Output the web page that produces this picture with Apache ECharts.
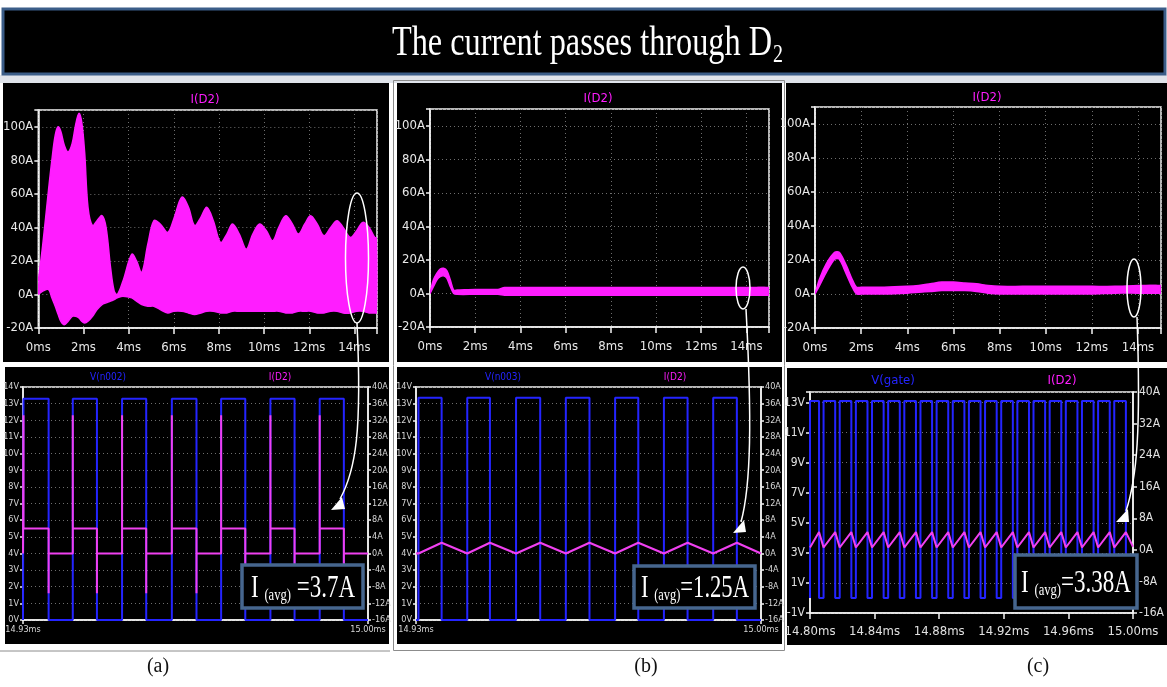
<!DOCTYPE html>
<html>
<head>
<meta charset="utf-8">
<script src="https://cdn.jsdelivr.net/npm/echarts@6/dist/echarts.min.js"></script>
<style>
html,body{margin:0;padding:0;background:#fff;}
#main{width:1167px;height:687px;}
</style>
</head>
<body>
<div id="main"></div>
<script>
// ---- top row: I(D2) over 0..15ms, drawn as a band (upper / lower edge) ----
const timeA  = [0, 0.2, 0.45, 0.6, 0.75, 0.88, 1.0, 1.15, 1.32, 1.5, 1.65, 1.8, 1.92, 2.05, 2.2, 2.4, 2.6, 2.82, 3.0, 3.2, 3.36, 3.5, 3.75,
                4.14, 4.35, 4.58, 4.85, 5.12, 5.4, 5.73, 6.0, 6.36, 6.65, 6.92, 7.2, 7.46, 7.75, 8.07, 8.35, 8.6, 8.9, 9.21, 9.5,
                9.8, 10.1, 10.38, 10.65, 10.96, 11.25, 11.52, 11.8, 12.06, 12.35, 12.65, 12.95, 13.23, 13.5, 13.82, 14.1, 14.37, 14.65, 14.9, 15];
const upperA = [8, 30, 62, 80, 95, 100, 97, 89, 85, 90, 101, 108, 103, 85, 52, 41, 44, 47, 40, 16, 2, 0, 8,
                24, 20, 13, 30, 44, 42, 37, 45, 58, 52, 41, 46, 52, 44, 31, 36, 42, 36, 27, 36,
                42, 38, 32, 40, 47, 42, 36, 42, 47, 42, 35, 40, 44, 40, 34, 38, 43, 40, 34, 34];
const lowerA = [0, 2, 3, -2, -7, -12, -16, -18, -16, -13, -13, -14, -16, -17, -16, -13, -9, -6, -5, -4, -3, -2, -1,
                -2, -4, -6, -7, -7, -9, -11, -10, -10, -11, -12, -11, -10, -10, -11, -11, -10, -10, -10, -10,
                -10, -10, -10, -10, -11, -11, -10, -10, -10, -11, -11, -10, -10, -11, -11, -10, -10, -11, -11, -11];

const timeB  = [0, 0.15, 0.3, 0.45, 0.6, 0.75, 0.9, 1.05, 1.2, 2, 3, 3.3, 4, 5, 6, 7, 8, 9, 10, 11, 12, 13, 14, 15];
const upperB = [0, 8, 12, 14.5, 15, 13.5, 8, 2, 2, 2.4, 2.4, 3.5, 3.5, 3.5, 3.5, 3.5, 3.5, 3.5, 3.5, 3.5, 3.5, 3.5, 3.5, 3.5];
const lowerB = [0, 4, 8, 10, 10.5, 9, 4, 0, -0.5, -0.5, -0.5, -1, -1, -1, -1, -1, -1, -1, -1, -1, -1, -1, -1, -1];

const timeC  = [0, 0.2, 0.5, 0.85, 1.05, 1.35, 1.6, 1.8, 2, 3, 4, 4.5, 5, 5.5, 6, 6.5, 7, 7.5, 8, 9, 10, 11, 12, 13, 14, 15];
const upperC = [0, 9, 18, 24.5, 24.5, 17, 9, 4, 4, 4, 4.5, 5, 6, 7, 7, 6.5, 6, 5, 4.5, 4.5, 4.5, 4.5, 4.5, 4.5, 5, 5];
const lowerC = [0, 5, 13, 20.5, 20.5, 12, 4.5, 0, 0, 0, 0.5, 1, 1.5, 2, 2, 2, 1.5, 0.5, 0, 0, 0, 0, 0, 0.5, 0.5, 0.5];

// ---- bottom row: gate voltage edges (ms) and current levels ----
const aRise = [14.9301, 14.9401, 14.9501, 14.9602, 14.9702, 14.9802, 14.9902];
const aFall = [14.9352, 14.9450, 14.9550, 14.9652, 14.9751, 14.9851, 14.9951];
const aVolt = [0, 13.3];                 // low, high
const aAmps = [33.2, 6, -9.6, 0];        // turn-on spike, on, turn-off spike, off

const bRise = [14.9305, 14.9404, 14.9503, 14.9604, 14.9704, 14.9803, 14.9903];
const bFall = [14.9352, 14.9450, 14.9552, 14.9652, 14.9751, 14.9851, 14.9951];
const bVolt = [0, 13.36];
const bAmps = [0, 2.56];                 // trough, peak

const cRise = [14.8000, 14.8084, 14.8184, 14.8284, 14.8384, 14.8484, 14.8584, 14.8684, 14.8784, 14.8884,
               14.8984, 14.9084, 14.9184, 14.9284, 14.9384, 14.9484, 14.9584, 14.9684, 14.9784, 14.9884];
const cFall = [14.8056, 14.8156, 14.8256, 14.8356, 14.8456, 14.8556, 14.8656, 14.8756, 14.8856, 14.8956,
               14.9056, 14.9156, 14.9256, 14.9356, 14.9456, 14.9556, 14.9656, 14.9756, 14.9856, 14.9956];
const cVolt = [0, 13.1];
const cAmps = [0.6, 4.5, 0.8];           // trough, peak, value at 15ms

const avgLabels = ['3.7A', '1.25A', '3.38A'];

const MAG = '#ff1dff';
const MAG2 = '#f040f0';
const BLUE = '#2424ff';
const SERIF = "'Liberation Serif','DejaVu Serif',serif";
const NARROW = "'Liberation Sans Narrow','DejaVu Sans Condensed',sans-serif";

function measure(text, size, family) {
  const ctx = document.createElement('canvas').getContext('2d');
  ctx.font = size + 'px ' + family;
  return ctx.measureText(text).width;
}

// filled band between lower and upper edge, placed through the axis scales
function bandSeries(idx, t, up, lo, sm) {
  return {
    type: 'custom', coordinateSystem: 'cartesian2d', xAxisIndex: idx, yAxisIndex: idx,
    silent: true, clip: true,
    data: t.map((x, i) => [x, up[i], lo[i]]),
    encode: { x: 0, y: [1, 2] },
    renderItem: function (params, api) {
      if (params.dataIndex !== 0) return null;
      const top = t.map((x, i) => api.coord([x, up[i]]));
      const bot = t.map((x, i) => api.coord([x, lo[i]])).reverse();
      return {
        type: 'group',
        children: [
          { type: 'polyline', shape: { points: top, smooth: sm }, style: { fill: 'none', stroke: MAG, lineWidth: 1.5 } },
          { type: 'polyline', shape: { points: bot, smooth: sm }, style: { fill: 'none', stroke: MAG, lineWidth: 1.5 } },
          { type: 'polygon', shape: { points: top.concat(bot), smooth: sm }, style: { fill: MAG } }
        ]
      };
    }
  };
}

function squareWave(start, end, rise, fall, lv) {
  const pts = [[start, lv[0]]];
  rise.forEach((r, k) => {
    pts.push([r, lv[0]], [r, lv[1]], [fall[k], lv[1]], [fall[k], lv[0]]);
  });
  pts.push([end, lv[0]]);
  return pts;
}

// (a) current: spike at each edge
const aCurrent = [[14.93, aAmps[3]]];
aRise.forEach((r, k) => {
  aCurrent.push([r, aAmps[3]], [r, aAmps[0]], [r, aAmps[1]], [aFall[k], aAmps[1]], [aFall[k], aAmps[2]], [aFall[k], aAmps[3]]);
});
aCurrent.push([15.0, aAmps[3]]);

// (b) current: triangle, trough at rise, peak at fall
const bCurrent = [[14.93, bAmps[0]]];
bRise.forEach((r, k) => bCurrent.push([r, bAmps[0]], [bFall[k], bAmps[1]]));
bCurrent.push([15.0, bAmps[0]]);

// (c) current
const cCurrent = [];
cRise.forEach((r, k) => cCurrent.push([r, cAmps[0]], [cFall[k], cAmps[1]]));
cCurrent.push([15.0, cAmps[2]]);

// ---------- axes ----------
const topGrids = [
  { left: 35, top: 110, width: 342, height: 218 },
  { left: 430, top: 109, width: 339, height: 218 },
  { left: 815, top: 107, width: 346, height: 221 }
];
const botGrids = [
  { left: 23, top: 387, width: 345, height: 233 },
  { left: 416, top: 387, width: 345, height: 233 },
  { left: 810, top: 392, width: 333, height: 221 }
];
const grids = topGrids.concat(botGrids).map(g => Object.assign({
  show: true, borderColor: '#f4f4f4', borderWidth: 1.5, backgroundColor: 'transparent', containLabel: false
}, g));

const dotted = { color: '#6e6e6e', type: [1, 3], width: 1 };
const white = { color: '#f4f4f4', width: 1.5 };

const xAxes = [];
const yAxes = [];
for (let i = 0; i < 3; i++) {
  xAxes.push({
    gridIndex: i, type: 'value', min: 0, max: 15, interval: 2,
    axisLine: { show: true, onZero: false, lineStyle: white },
    axisTick: { show: true, length: 6, lineStyle: white },
    axisLabel: { color: '#e8e8e8', fontSize: 13, fontFamily: NARROW, margin: 13,
      formatter: v => (v % 2 === 0 ? v + 'ms' : '') },
    splitLine: { show: true, lineStyle: dotted }
  });
  yAxes.push({
    gridIndex: i, type: 'value', min: -20, max: 110, interval: 20,
    axisLine: { show: true, onZero: false, lineStyle: white },
    axisTick: { show: true, length: 4, lineStyle: white },
    axisLabel: { color: '#e8e8e8', fontSize: 13, fontFamily: NARROW, margin: 5,
      formatter: v => (v % 20 === 0 ? v + 'A' : '') },
    splitLine: { show: true, lineStyle: dotted }
  });
}
// bottom (a), (b)
for (let i = 3; i < 5; i++) {
  xAxes.push({
    gridIndex: i, type: 'value', min: 14.93, max: 15.0, interval: 0.07,
    axisLine: { show: true, onZero: false, lineStyle: white },
    axisTick: { show: true, length: 4, lineStyle: white },
    axisLabel: { color: '#d8d8d8', fontSize: 9, fontFamily: NARROW, margin: 5,
      formatter: v => v.toFixed(2) + 'ms' },
    splitLine: { show: false }
  });
  yAxes.push({
    gridIndex: i, type: 'value', min: 0, max: 14, interval: 1, position: 'left',
    axisLine: { show: true, onZero: false, lineStyle: white },
    axisTick: { show: true, length: 3, lineStyle: white },
    axisLabel: { color: '#d8d8d8', fontSize: 9, fontFamily: NARROW, margin: 4, formatter: v => v + 'V' },
    splitLine: { show: true, lineStyle: dotted }
  });
  yAxes.push({
    gridIndex: i, type: 'value', min: -16, max: 40, interval: 4, position: 'right',
    axisLine: { show: true, onZero: false, lineStyle: white },
    axisTick: { show: true, length: 3, lineStyle: white },
    axisLabel: { color: '#d8d8d8', fontSize: 9, fontFamily: NARROW, margin: 4, formatter: v => v + 'A' },
    splitLine: { show: false }
  });
}
// bottom (c)
xAxes.push({
  gridIndex: 5, type: 'value', min: 14.80, max: 15.0, interval: 0.04,
  axisLine: { show: true, onZero: false, lineStyle: white },
  axisTick: { show: true, length: 6, lineStyle: white },
  axisLabel: { color: '#e0e0e0', fontSize: 13, fontFamily: NARROW, margin: 12,
    formatter: v => v.toFixed(2) + 'ms' },
  splitLine: { show: false }
});
yAxes.push({
  gridIndex: 5, type: 'value', min: -1, max: 13.7, interval: 2, position: 'left',
  axisLine: { show: true, onZero: false, lineStyle: white },
  axisTick: { show: true, length: 4, lineStyle: white },
  axisLabel: { color: '#e0e0e0', fontSize: 12, fontFamily: NARROW, margin: 5,
    formatter: v => (Number.isInteger(v) ? v + 'V' : '') },
  splitLine: { show: true, lineStyle: dotted }
});
yAxes.push({
  gridIndex: 5, type: 'value', min: -16, max: 40, interval: 8, position: 'right',
  axisLine: { show: true, onZero: false, lineStyle: white },
  axisTick: { show: true, length: 4, lineStyle: white },
  axisLabel: { color: '#e0e0e0', fontSize: 12, fontFamily: NARROW, margin: 6, formatter: v => v + 'A' },
  splitLine: { show: false }
});

// ---------- series ----------
const series = [
  bandSeries(0, timeA, upperA, lowerA, 0.35),
  bandSeries(1, timeB, upperB, lowerB, 0.3),
  bandSeries(2, timeC, upperC, lowerC, 0.3)
];

function lineS(xi, yi, data, color, w) {
  return { type: 'line', xAxisIndex: xi, yAxisIndex: yi, data: data, symbol: 'none', silent: true,
    lineStyle: { color: color, width: w } };
}
series.push(lineS(3, 3, squareWave(14.93, 15.0, aRise, aFall, aVolt), BLUE, 2));
series.push(lineS(3, 4, aCurrent, MAG2, 2));
series.push(lineS(4, 5, squareWave(14.93, 15.0, bRise, bFall, bVolt), BLUE, 2));
series.push(lineS(4, 6, bCurrent, MAG2, 2.2));
series.push(lineS(5, 7, squareWave(14.80, 15.0, cRise, cFall, cVolt).slice(1), BLUE, 2));
series.push(lineS(5, 8, cCurrent, MAG2, 2));

// ---------- decorations ----------
const graphics = [];
function rect(x, y, w, h, fill, stroke, lw, z) {
  graphics.push({ type: 'rect', z: z, silent: true, shape: { x: x, y: y, width: w, height: h },
    style: { fill: fill, stroke: stroke || null, lineWidth: lw || 0 } });
}
function text(x, y, str, size, color, family, align, extra) {
  graphics.push(Object.assign({ type: 'text', z: 100, silent: true, x: x, y: y,
    style: { text: str, fontSize: size, fontFamily: family, fill: color, align: align || 'center', verticalAlign: 'middle' } }, extra || {}));
}

// panel backgrounds
rect(0, 75, 1167, 8, '#dfe3ea', null, 0, -10);
rect(3, 83, 386, 279, '#000', null, 0, -10);
rect(397, 83, 385, 279, '#000', null, 0, -10);
rect(786, 83, 381, 279, '#000', null, 0, -10);
rect(5, 367, 384, 277, '#000', null, 0, -10);
rect(397, 367, 385, 277, '#000', null, 0, -10);
rect(787, 368, 380, 277, '#000', null, 0, -10);
rect(393.5, 80.5, 391, 570, 'none', '#8c8c8c', 1, -9);
graphics.push({ type: 'line', z: -9, silent: true, shape: { x1: 0, y1: 651, x2: 390, y2: 651 }, style: { stroke: '#8c8c8c', lineWidth: 1 } });

// title bar
rect(3, 9, 1162, 65, '#000', '#3b5d88', 3, 50);
const titleMain = 'The current passes through D';
const tScale = 380 / measure(titleMain, 42, SERIF);
text(392, 44, titleMain, 42, '#fff', SERIF, 'left', { scaleX: tScale });
text(392 + 380 + 1, 55, '2', 26, '#fff', SERIF, 'left', { scaleX: tScale });

// plot titles
text(205, 100, 'I(D2)', 13, MAG, NARROW);
text(598, 99, 'I(D2)', 13, MAG, NARROW);
text(987, 98, 'I(D2)', 13, MAG, NARROW);
text(108, 377, 'V(n002)', 10, BLUE, NARROW);
text(280, 377, 'I(D2)', 10, MAG, NARROW);
text(503, 377, 'V(n003)', 10, BLUE, NARROW);
text(675, 377, 'I(D2)', 10, MAG, NARROW);
text(893, 381, 'V(gate)', 13, BLUE, NARROW);
text(1062, 381, 'I(D2)', 13, MAG, NARROW);

// ellipses and arrows
const wStroke = { fill: 'none', stroke: '#fff', lineWidth: 1.5 };
[[357, 258, 11.5, 65], [743, 288, 7, 21], [1134, 288, 7, 29]].forEach(e => {
  graphics.push({ type: 'ellipse', z: 100, silent: true, shape: { cx: e[0], cy: e[1], rx: e[2], ry: e[3] }, style: wStroke });
});
graphics.push({ type: 'bezierCurve', z: 100, silent: true,
  shape: { x1: 357, y1: 323, cpx1: 362, cpy1: 430, cpx2: 356, cpy2: 470, x2: 340, y2: 499 }, style: wStroke });
graphics.push({ type: 'polygon', z: 100, silent: true, shape: { points: [[331, 510], [345, 509], [342, 497]] }, style: { fill: '#fff' } });
graphics.push({ type: 'bezierCurve', z: 100, silent: true,
  shape: { x1: 746, y1: 309, cpx1: 752, cpy1: 420, cpx2: 751, cpy2: 485, x2: 741, y2: 522 }, style: wStroke });
graphics.push({ type: 'polygon', z: 100, silent: true, shape: { points: [[733, 533], [746, 532], [744, 520]] }, style: { fill: '#fff' } });
graphics.push({ type: 'bezierCurve', z: 100, silent: true,
  shape: { x1: 1137, y1: 317, cpx1: 1141, cpy1: 430, cpx2: 1137, cpy2: 478, x2: 1126, y2: 511 }, style: wStroke });
graphics.push({ type: 'polygon', z: 100, silent: true, shape: { points: [[1116, 522], [1129, 522], [1128, 509]] }, style: { fill: '#fff' } });

// I(avg) boxes
const boxes = [[242, 565, 121, 43, 251, 104], [634, 566, 121, 42, 641, 108], [1015, 555, 122, 53, 1021, 110]];
boxes.forEach((b, i) => {
  rect(b[0], b[1], b[2], b[3], '#000', '#46668e', 3.5, 90);
  const tail = (i === 0 ? ' =' : '=') + avgLabels[i];
  const wid = measure('I ', 31, SERIF) + measure('(avg)', 17, SERIF) + measure(tail, 31, SERIF);
  graphics.push({ type: 'text', z: 100, silent: true, x: b[4], y: b[1] + b[3] / 2 + 2, scaleX: b[5] / wid,
    style: { text: '{b|I }{s|(avg)}{b|' + tail + '}', align: 'left', verticalAlign: 'middle',
      rich: {
        b: { fontSize: 31, fontFamily: SERIF, fill: '#fff', verticalAlign: 'bottom' },
        s: { fontSize: 17, fontFamily: SERIF, fill: '#fff', verticalAlign: 'bottom' }
      } } });
});

// panel letters
text(158, 667, '(a)', 20, '#111', SERIF);
text(646, 667, '(b)', 20, '#111', SERIF);
text(1038, 667, '(c)', 20, '#111', SERIF);

const chart = echarts.init(document.getElementById('main'), null, { renderer: 'canvas' });
chart.setOption({
  backgroundColor: '#ffffff',
  animation: false,
  grid: grids,
  xAxis: xAxes,
  yAxis: yAxes,
  series: series,
  graphic: { elements: graphics }
});
</script>
</body>
</html>
